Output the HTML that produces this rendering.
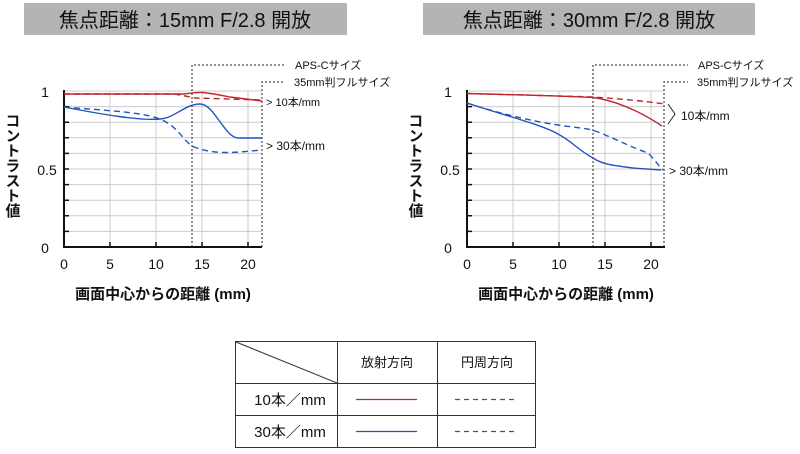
<!DOCTYPE html>
<html><head><meta charset="utf-8"><style>
body{margin:0;background:#fff;width:800px;height:449px;overflow:hidden}
text{font-family:"Liberation Sans","Noto Sans CJK JP",sans-serif;fill:#111}
</style></head><body>
<svg width="800" height="449" viewBox="0 0 800 449" xmlns="http://www.w3.org/2000/svg">
<rect x="24" y="3" width="323" height="32" fill="#b4b4b4"/>
<rect x="423" y="3" width="332" height="32" fill="#b4b4b4"/>
<text x="185" y="27" font-size="20" text-anchor="middle">焦点距離：15mm  F/2.8  開放</text>
<text x="589" y="27" font-size="20" text-anchor="middle">焦点距離：30mm  F/2.8  開放</text>

<g id="L">
<g stroke="#ccc" stroke-width="1">
<line x1="64" y1="106.6" x2="262" y2="106.6"/><line x1="64" y1="122.2" x2="262" y2="122.2"/><line x1="64" y1="137.8" x2="262" y2="137.8"/><line x1="64" y1="153.4" x2="262" y2="153.4"/><line x1="64" y1="169" x2="262" y2="169"/><line x1="64" y1="184.6" x2="262" y2="184.6"/><line x1="64" y1="200.2" x2="262" y2="200.2"/><line x1="64" y1="215.8" x2="262" y2="215.8"/><line x1="64" y1="231.4" x2="262" y2="231.4"/><line x1="64" y1="91" x2="262" y2="91"/>
<line x1="110" y1="91" x2="110" y2="247"/><line x1="156" y1="91" x2="156" y2="247"/><line x1="202" y1="91" x2="202" y2="247"/><line x1="248" y1="91" x2="248" y2="247"/>
</g>
<g stroke="#111" stroke-width="2"><line x1="64" y1="90" x2="64" y2="248"/><line x1="63" y1="247" x2="262" y2="247"/>
<path d="M64 106.6h5M64 122.2h5M64 137.8h5M64 153.4h5M64 169h5M64 184.6h5M64 200.2h5M64 215.8h5M64 231.4h5M110 247v-5M156 247v-5M202 247v-5M248 247v-5" stroke-width="1.5"/></g>
<g stroke="#222" stroke-width="1" stroke-dasharray="2,2" fill="none">
<path d="M192 247V65H285"/><path d="M262 247V82H285"/></g>
<text x="295" y="69" font-size="11">APS-Cサイズ</text>
<text x="294" y="86" font-size="11">35mm判フルサイズ</text>
<text x="266" y="106" font-size="11">&gt; 10本/mm</text>
<text x="266" y="150" font-size="12">&gt; 30本/mm</text>
<g fill="none" stroke-width="1.4">
<path d="M64 94 L183 94 Q200 92 202 92.5 Q210 93 230 97 L262 101" stroke="#c0272d"/>
<path d="M64 94 L174 94 Q186 96 195 98 L262 100" stroke="#c0272d" stroke-dasharray="6,4"/>
<path d="M64 107 C100 114 140 121 160 119 C175 118 185 104 200 104 C215 104 225 140 240 138 L262 138" stroke="#2255bb"/>
<path d="M64 107 C110 111 150 112 166 122 C180 130 185 143 194 147 C210 153 225 153 240 152 L262 150" stroke="#2255bb" stroke-dasharray="6,4"/>
</g>
<text x="45" y="97" font-size="14" text-anchor="middle">1</text>
<text x="47" y="175" font-size="14" text-anchor="middle">0.5</text>
<text x="45" y="253" font-size="14" text-anchor="middle">0</text>
<text x="64" y="269" font-size="14" text-anchor="middle">0</text>
<text x="110" y="269" font-size="14" text-anchor="middle">5</text>
<text x="156" y="269" font-size="14" text-anchor="middle">10</text>
<text x="202" y="269" font-size="14" text-anchor="middle">15</text>
<text x="248" y="269" font-size="14" text-anchor="middle">20</text>
<text x="163" y="299" font-size="15" text-anchor="middle" font-weight="bold">画面中心からの距離 (mm)</text>
<text x="12" y="113" font-size="15" font-weight="bold" writing-mode="tb" text-anchor="start">コントラスト値</text>
</g>

<g transform="translate(403,0)">
<g stroke="#ccc" stroke-width="1">
<line x1="64" y1="106.6" x2="262" y2="106.6"/><line x1="64" y1="122.2" x2="262" y2="122.2"/><line x1="64" y1="137.8" x2="262" y2="137.8"/><line x1="64" y1="153.4" x2="262" y2="153.4"/><line x1="64" y1="169" x2="262" y2="169"/><line x1="64" y1="184.6" x2="262" y2="184.6"/><line x1="64" y1="200.2" x2="262" y2="200.2"/><line x1="64" y1="215.8" x2="262" y2="215.8"/><line x1="64" y1="231.4" x2="262" y2="231.4"/><line x1="64" y1="91" x2="262" y2="91"/>
<line x1="110" y1="91" x2="110" y2="247"/><line x1="156" y1="91" x2="156" y2="247"/><line x1="202" y1="91" x2="202" y2="247"/><line x1="248" y1="91" x2="248" y2="247"/>
</g>
<g stroke="#111" stroke-width="2"><line x1="64" y1="90" x2="64" y2="248"/><line x1="63" y1="247" x2="262" y2="247"/>
<path d="M64 106.6h5M64 122.2h5M64 137.8h5M64 153.4h5M64 169h5M64 184.6h5M64 200.2h5M64 215.8h5M64 231.4h5M110 247v-5M156 247v-5M202 247v-5M248 247v-5" stroke-width="1.5"/></g>
<g stroke="#222" stroke-width="1" stroke-dasharray="2,2" fill="none">
<path d="M190 247V65H285"/><path d="M261 247V82H285"/></g>
<text x="295" y="69" font-size="11">APS-Cサイズ</text>
<text x="294" y="86" font-size="11">35mm判フルサイズ</text>
<path d="M265 104 L272 114 L265 124" stroke="#222" fill="none" stroke-width="1"/>
<text x="278" y="120" font-size="12">10本/mm</text>
<text x="266" y="175" font-size="12">&gt; 30本/mm</text>
<g fill="none" stroke-width="1.4">
<path d="M64 93.5 C120 95 160 96 190 97.5 C210 100 235 110 259 126" stroke="#c0272d"/>
<path d="M64 93.5 C120 95 160 96 190 97 C220 99 240 101 262 104" stroke="#c0272d" stroke-dasharray="6,4"/>
<path d="M64 103 C100 115 140 125 155 134 C170 142 175 150 190 158 C200 165 215 166 230 168 L258 170" stroke="#2255bb"/>
<path d="M64 103 C100 115 140 123 155 125 C175 128 185 128 195 132 C215 140 230 148 245 153 C252 160 255 165 260 170" stroke="#2255bb" stroke-dasharray="6,4"/>
</g>
<text x="45" y="97" font-size="14" text-anchor="middle">1</text>
<text x="47" y="175" font-size="14" text-anchor="middle">0.5</text>
<text x="45" y="253" font-size="14" text-anchor="middle">0</text>
<text x="64" y="269" font-size="14" text-anchor="middle">0</text>
<text x="110" y="269" font-size="14" text-anchor="middle">5</text>
<text x="156" y="269" font-size="14" text-anchor="middle">10</text>
<text x="202" y="269" font-size="14" text-anchor="middle">15</text>
<text x="248" y="269" font-size="14" text-anchor="middle">20</text>
<text x="163" y="299" font-size="15" text-anchor="middle" font-weight="bold">画面中心からの距離 (mm)</text>
<text x="12" y="113" font-size="15" font-weight="bold" writing-mode="tb" text-anchor="start">コントラスト値</text>
</g>

<g stroke="#333" stroke-width="1" fill="none">
<rect x="235.5" y="341.5" width="300" height="106"/>
<line x1="235" y1="383.5" x2="536" y2="383.5"/>
<line x1="235" y1="415.5" x2="536" y2="415.5"/>
<line x1="337.5" y1="341" x2="337.5" y2="448"/>
<line x1="437.5" y1="341" x2="437.5" y2="448"/>
<line x1="236" y1="342" x2="337" y2="383"/>
</g>
<line x1="356" y1="399.5" x2="417" y2="399.5" stroke="#c0272d" stroke-width="1.3"/>
<line x1="455" y1="399.5" x2="516" y2="399.5" stroke="#c0272d" stroke-width="1.3" stroke-dasharray="5,4"/>
<line x1="356" y1="431.5" x2="417" y2="431.5" stroke="#2255bb" stroke-width="1.3"/>
<line x1="455" y1="431.5" x2="516" y2="431.5" stroke="#2255bb" stroke-width="1.3" stroke-dasharray="5,4"/>
<text x="387" y="367" font-size="13" text-anchor="middle">放射方向</text>
<text x="487" y="367" font-size="13" text-anchor="middle">円周方向</text>
<text x="290" y="405" font-size="15" text-anchor="middle">10本／mm</text>
<text x="290" y="437" font-size="15" text-anchor="middle">30本／mm</text>
</svg>
</body></html>
